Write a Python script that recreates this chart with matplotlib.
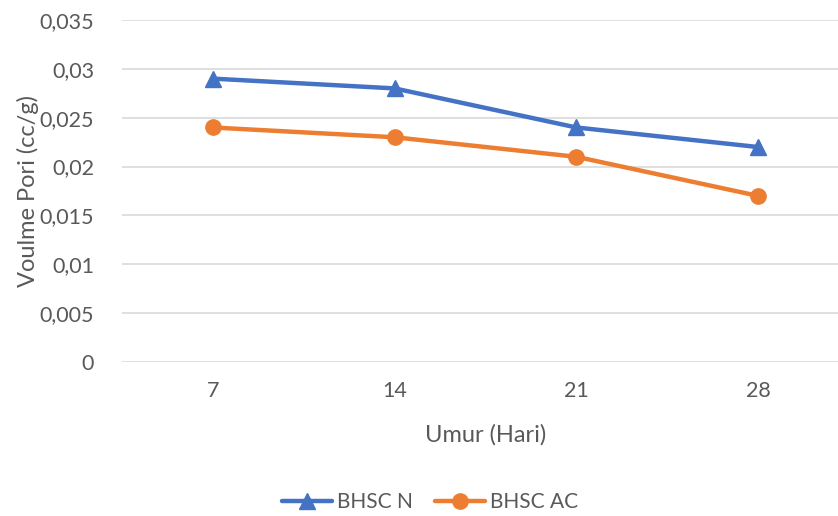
import numpy as np
import matplotlib.pyplot as plt

# data
umur = ["7", "14", "21", "28"]
bhsc_n = [0.029, 0.028, 0.024, 0.022]
bhsc_ac = [0.024, 0.023, 0.021, 0.017]

plt.rcParams["font.family"] = ["Lato", "DejaVu Sans"]
text_gray = "#595959"

fig = plt.figure(figsize=(8.38, 5.16), dpi=100)
ax = fig.add_axes([122 / 838, 154 / 516, 727 / 838, 342 / 516])

x = np.arange(len(umur))
ax.plot(x, bhsc_n, color="#4472C4", lw=3.2, marker="^", ms=11, label="BHSC N",
        solid_capstyle="round", zorder=3)
ax.plot(x, bhsc_ac, color="#ED7D31", lw=3.2, marker="o", ms=11, label="BHSC AC",
        solid_capstyle="round", zorder=3)

ax.set_xlim(-0.5, 3.5)
ax.set_ylim(0, 0.035)
yt = np.arange(0, 0.0351, 0.005)
ax.set_yticks(yt)
ax.set_yticklabels(["0"] + [("%g" % v).replace(".", ",") for v in yt[1:]])
ax.set_xticks(x)
ax.set_xticklabels(umur)

ax.grid(axis="y", color="#D9D9D9", lw=1.2)
ax.set_axisbelow(True)
for s in ax.spines.values():
    s.set_visible(False)
ax.tick_params(length=0, labelsize=15.5, colors=text_gray, pad=20)
ax.tick_params(axis="x", pad=14)

ax.set_ylabel("Voulme Pori (cc/g)", fontsize=17, color=text_gray)
ax.yaxis.set_label_coords((39 - 122) / 727, 0.5)
ax.set_xlabel("Umur (Hari)", fontsize=17, color=text_gray, labelpad=16)

fig.legend(loc="center", bbox_to_anchor=(430 / 838, 1 - 502 / 516), ncol=2, frameon=False,
           fontsize=15, labelcolor=text_gray, handlelength=2.4, columnspacing=1.1,
           handletextpad=0.2)

fig.savefig("out.png", dpi=100)
